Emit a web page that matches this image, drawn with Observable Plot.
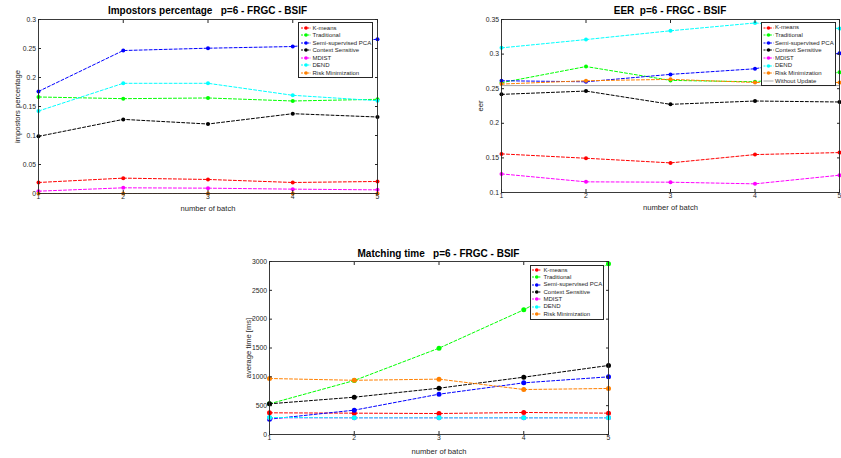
<!DOCTYPE html>
<html><head><meta charset="utf-8">
<script src="https://cdn.jsdelivr.net/npm/d3@7"></script>
<script src="https://cdn.jsdelivr.net/npm/@observablehq/plot@0.6"></script>
<style>
body{margin:0;background:#fff;font-family:"Liberation Sans",Arial,sans-serif;}
#root{position:relative;width:841px;height:458px;overflow:hidden;background:#fff;}
.panel{position:absolute;}
.title{position:absolute;font-weight:bold;font-size:10px;line-height:10px;color:#000;white-space:pre;transform:translateX(-50%);}
.legend{position:absolute;border:1px solid #262626;background:#fff;box-sizing:border-box;}
.legend svg{position:absolute;left:0;overflow:visible;}
.legend span{position:absolute;font-size:6px;line-height:6px;white-space:nowrap;color:#262626;}
</style></head><body><div id="root"></div>
<script>
// ---------- data ----------
const batches = [1, 2, 3, 4, 5];
const methods = ["K-means", "Traditional", "Semi-supervised PCA", "Context Sensitive", "MDIST", "DEND", "Risk Minimization"];
const methodColors = ["#ff0000", "#00ff00", "#0000ff", "#000000", "#ff00ff", "#00ffff", "#ff8000"];

// Impostors percentage
const impKmeans      = [0.019, 0.0265, 0.0242, 0.019, 0.0207];
const impTraditional = [0.1664, 0.1635, 0.1647, 0.1595, 0.1624];
const impSemiPCA     = [0.176, 0.2465, 0.2505, 0.2534, 0.266];
const impContext     = [0.0985, 0.1278, 0.1198, 0.1376, 0.1319];
const impMDIST       = [0.004, 0.0098, 0.0092, 0.0075, 0.0063];
const impDEND        = [0.1422, 0.19, 0.19, 0.1693, 0.160];
const impRisk        = [0, 0, 0, 0, 0];
const impTicks       = [0, 0.05, 0.1, 0.15, 0.2, 0.25, 0.3];

// EER
const eerKmeans      = [0.1558, 0.1495, 0.1428, 0.1548, 0.1577];
const eerTraditional = [0.2587, 0.282, 0.262, 0.260, 0.2736];
const eerSemiPCA     = [0.2615, 0.260, 0.2707, 0.2788, 0.3014];
const eerContext     = [0.2418, 0.2466, 0.2274, 0.2322, 0.2308];
const eerMDIST       = [0.1269, 0.1154, 0.1149, 0.1125, 0.125];
const eerDEND        = [0.309, 0.321, 0.3337, 0.345, 0.337];
const eerRisk        = [0.2567, 0.2615, 0.2635, 0.259, 0.259];
const eerWithoutUpdate = [0.2545, 0.2545, 0.2545, 0.2545, 0.2545];
const eerTicks       = [0.1, 0.15, 0.2, 0.25, 0.3, 0.35];

// Matching time [ms]
const timeKmeans      = [376, 370, 364, 382, 370];
const timeTraditional = [532, 936, 1497, 2162, 2960];
const timeSemiPCA     = [266, 422, 699, 896, 1000];
const timeContext     = [532, 647, 803, 994, 1197];
const timeMDIST       = [290, 289, 289, 289, 289];
const timeDEND        = [295, 289, 289, 289, 289];
const timeRisk        = [971, 940, 960, 780, 798];
const timeTicks       = [0, 500, 1000, 1500, 2000, 2500, 3000];

const titles = ["Impostors percentage   p=6 - FRGC - BSIF", "EER  p=6 - FRGC - BSIF", "Matching time   p=6 - FRGC - BSIF"];
const yLabels = ["impostors percentage", "eer", "average time [ms]"];
const xLabel = "number of batch";

// ---------- drawing ----------
const root = document.getElementById("root");
const AX = "#262626";
const FONT = '"Liberation Sans", Arial, sans-serif';

function buildPanel(cfg) {
  const names = cfg.names, colors = cfg.colors;
  const marks = [];
  cfg.series.forEach((vals, i) => {
    const rows = vals.map((v, j) => ({method: names[i], batch: batches[j], value: v}));
    const solid = cfg.solid && cfg.solid[i];
    marks.push(Plot.line(rows, {x: "batch", y: "value", stroke: "method", strokeWidth: 1,
      strokeDasharray: solid ? null : "3,2"}));
    if (!solid) marks.push(Plot.dot(rows, {x: "batch", y: "value", fill: "method", r: cfg.r, stroke: null}));
  });
  marks.push(
    Plot.frame({stroke: AX, strokeWidth: 0.9}),
    Plot.axisX(batches, {anchor: "bottom", tickSize: -3, tickPadding: 4, fontSize: 6.8, label: null, tickFormat: d => String(d), color: AX}),
    Plot.axisX(batches, {anchor: "top", tickSize: -3, tickFormat: () => "", label: null, color: AX}),
    Plot.axisY(cfg.yTicks, {anchor: "left", tickSize: -3, tickPadding: 5.5, fontSize: 6.8, label: null, tickFormat: d => String(+d.toFixed(2)), color: AX}),
    Plot.axisY(cfg.yTicks, {anchor: "right", tickSize: -3, tickFormat: () => "", label: null, color: AX}),
    Plot.axisX([], {anchor: "bottom", label: xLabel, labelArrow: "none", labelAnchor: "center", labelOffset: cfg.xlo, fontSize: 7.6, color: AX, tickSize: 0}),
    Plot.axisY([], {anchor: "left", label: cfg.ylabel, labelArrow: "none", labelAnchor: "center", labelOffset: 24, fontSize: 7.6, color: AX, tickSize: 0})
  );
  const svg = Plot.plot({
    width: cfg.width, height: cfg.height,
    marginLeft: cfg.ml, marginRight: cfg.mr, marginTop: cfg.mt, marginBottom: cfg.mb,
    x: {domain: [1, 5]},
    y: {domain: cfg.yDomain},
    color: {domain: names, range: colors},
    style: {fontFamily: FONT, overflow: "visible", background: "transparent", color: AX},
    marks
  });
  svg.classList.add("panel");
  svg.style.left = cfg.left + "px";
  svg.style.top = cfg.top + "px";
  svg.style.position = "absolute";
  root.appendChild(svg);

  const t = document.createElement("div");
  t.className = "title";
  t.textContent = cfg.title;
  t.style.left = cfg.titleX + "px";
  t.style.top = cfg.titleY + "px";
  root.appendChild(t);

  const lg = cfg.legend;
  const box = document.createElement("div");
  box.className = "legend";
  Object.assign(box.style, {left: lg.left + "px", top: lg.top + "px", width: lg.w + "px", height: lg.h + "px"});
  names.forEach((name, i) => {
    const cy = lg.first + i * lg.step;
    const solid = cfg.solid && cfg.solid[i];
    const s = d3.create("svg").attr("width", 14).attr("height", 2).style("top", (cy - 1) + "px");
    s.append("line").attr("x1", lg.x0).attr("x2", lg.x1).attr("y1", 1).attr("y2", 1)
      .attr("stroke", colors[i]).attr("stroke-width", 1).attr("stroke-dasharray", solid ? null : "2,1.2");
    if (!solid) s.append("circle").attr("cx", (lg.x0 + lg.x1) / 2).attr("cy", 1).attr("r", 1.8).attr("fill", colors[i]);
    box.appendChild(s.node());
    const sp = document.createElement("span");
    sp.textContent = name;
    sp.style.left = lg.tx + "px";
    sp.style.top = (cy - 3.2) + "px";
    box.appendChild(sp);
  });
  root.appendChild(box);
}

buildPanel({
  left: 0, top: 0, width: 420, height: 215, ml: 38, mr: 43, mt: 19, mb: 22, xlo: 17,
  yDomain: [0, 0.3], yTicks: impTicks, ylabel: yLabels[0], r: 2,
  names: methods, colors: methodColors,
  series: [impKmeans, impTraditional, impSemiPCA, impContext, impMDIST, impDEND, impRisk],
  title: titles[0], titleX: 207.5, titleY: 6.3,
  legend: {left: 298, top: 22, w: 74.5, h: 55.5, first: 4.8, step: 7.5, x0: 2, x1: 12, tx: 13.5}
});

buildPanel({
  left: 420, top: 0, width: 421, height: 215, ml: 81, mr: 2, mt: 19, mb: 23, xlo: 17,
  yDomain: [0.1, 0.35], yTicks: eerTicks, ylabel: yLabels[1], r: 2,
  names: methods.concat(["Without Update"]), colors: methodColors.concat(["#a6a6a6"]),
  solid: [false, false, false, false, false, false, false, true],
  series: [eerKmeans, eerTraditional, eerSemiPCA, eerContext, eerMDIST, eerDEND, eerRisk, eerWithoutUpdate],
  title: titles[1], titleX: 670, titleY: 6.3,
  legend: {left: 761, top: 22, w: 74.5, h: 63.5, first: 4.5, step: 7.6, x0: 1.5, x1: 11.5, tx: 13}
});

buildPanel({
  left: 220, top: 220, width: 420, height: 238, ml: 49, mr: 32, mt: 41, mb: 24, xlo: 19,
  yDomain: [0, 3000], yTicks: timeTicks, ylabel: yLabels[2], r: 2.5,
  names: methods, colors: methodColors,
  series: [timeKmeans, timeTraditional, timeSemiPCA, timeContext, timeMDIST, timeDEND, timeRisk],
  title: titles[2], titleX: 438.5, titleY: 248.5,
  legend: {left: 530, top: 265, w: 73.5, h: 54.5, first: 4, step: 7.3, x0: 1, x1: 10.5, tx: 12.5}
});
</script></body></html>
